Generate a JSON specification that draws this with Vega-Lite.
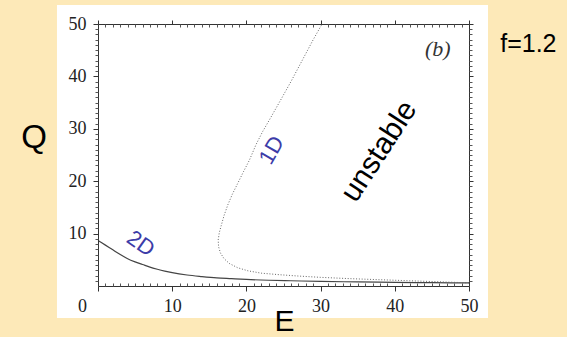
{
  "$schema": "https://vega.github.io/schema/vega-lite/v6.json",
  "width": 371,
  "height": 262,
  "autosize": "none",
  "padding": {"left": 98, "top": 24, "right": 98, "bottom": 51},
  "background": "#fde9b8",
  "config": {"view": {"stroke": null}, "axis": {"grid": false}},
  "datasets": {
    "curve2D": [
      {"E": 0, "Q": 8.7}, {"E": 1, "Q": 7.8}, {"E": 2, "Q": 6.9}, {"E": 3, "Q": 6.0},
      {"E": 4, "Q": 5.2}, {"E": 5, "Q": 4.6}, {"E": 6, "Q": 4.1}, {"E": 7, "Q": 3.6},
      {"E": 8, "Q": 3.2}, {"E": 9, "Q": 2.85}, {"E": 10, "Q": 2.55}, {"E": 12, "Q": 2.1},
      {"E": 14, "Q": 1.8}, {"E": 16, "Q": 1.55}, {"E": 18, "Q": 1.4}, {"E": 20, "Q": 1.25},
      {"E": 23, "Q": 1.1}, {"E": 26, "Q": 1.0}, {"E": 30, "Q": 0.88}, {"E": 35, "Q": 0.78},
      {"E": 40, "Q": 0.7}, {"E": 45, "Q": 0.63}, {"E": 50, "Q": 0.58}
    ],
    "curve1D": [
      {"E": 50, "Q": 0.6}, {"E": 46, "Q": 0.8}, {"E": 42, "Q": 1.0}, {"E": 38, "Q": 1.2},
      {"E": 34, "Q": 1.4}, {"E": 30, "Q": 1.65}, {"E": 27, "Q": 1.9}, {"E": 24.5, "Q": 2.15},
      {"E": 22, "Q": 2.45}, {"E": 20.2, "Q": 2.9}, {"E": 18.8, "Q": 3.5}, {"E": 17.7, "Q": 4.3},
      {"E": 17.0, "Q": 5.2}, {"E": 16.5, "Q": 6.3}, {"E": 16.25, "Q": 7.5}, {"E": 16.2, "Q": 8.8},
      {"E": 16.35, "Q": 10.2}, {"E": 16.6, "Q": 11.5}, {"E": 17.0, "Q": 13.5}, {"E": 17.5, "Q": 15.5},
      {"E": 18.1, "Q": 17.5}, {"E": 18.8, "Q": 19.5}, {"E": 19.6, "Q": 21.8}, {"E": 20.4, "Q": 24},
      {"E": 21.3, "Q": 27}, {"E": 22.2, "Q": 29.5}, {"E": 23.1, "Q": 31.7}, {"E": 24.5, "Q": 35.2},
      {"E": 26.0, "Q": 39}, {"E": 27.5, "Q": 43}, {"E": 29.0, "Q": 47}, {"E": 30.2, "Q": 50}
    ],
    "labels": [
      {"label": "unstable", "E": 37.9, "Q": 25.7},
      {"label": "1D", "E": 23.4, "Q": 25.9},
      {"label": "2D", "E": 5.75, "Q": 8.1},
      {"label": "(b)", "E": 45.8, "Q": 45.2},
      {"label": "f=1.2", "E": 58.0, "Q": 44.7}
    ]
  },
  "layer": [
    {
      "data": {"values": [{}]},
      "mark": {"type": "rect", "fill": "#ffffff", "clip": false},
      "encoding": {
        "x": {"datum": -5.53, "type": "quantitative", "scale": {"domain": [0, 50], "nice": false, "zero": false}, "axis": null},
        "x2": {"datum": 52.56},
        "y": {"datum": 53.63, "type": "quantitative", "scale": {"domain": [0, 50], "nice": false, "zero": false}, "axis": null},
        "y2": {"datum": -6.11}
      }
    },
    {
      "data": {"name": "curve2D"},
      "mark": {"type": "line", "color": "#444444", "strokeWidth": 1.2, "interpolate": "monotone"},
      "encoding": {
        "x": {"field": "E", "type": "quantitative", "scale": {"domain": [0, 50], "nice": false, "zero": false},
          "axis": {"orient": "bottom", "values": [0, 10, 20, 30, 40, 50], "tickSize": 5, "tickColor": "#333333", "domainColor": "#333333",
            "labelFont": "Liberation Serif", "labelFontSize": 18, "labelColor": "#222222", "labelPadding": 6,
            "labelOffset": {"condition": {"test": "datum.value === 0", "value": -16}, "value": 0},
            "labelFlush": false, "labelOverlap": false, "zindex": 1,
            "title": "E", "titleFont": "Liberation Sans", "titleFontSize": 30, "titleFontWeight": "normal", "titleColor": "#000000",
            "titleX": 186, "titleY": 44, "titleBaseline": "alphabetic", "titleAlign": "center", "titleAnchor": null}},
        "y": {"field": "Q", "type": "quantitative", "scale": {"domain": [0, 50], "nice": false, "zero": false},
          "axis": {"orient": "left", "values": [10, 20, 30, 40, 50], "tickSize": 5, "tickColor": "#333333", "domainColor": "#333333",
            "labelFont": "Liberation Serif", "labelFontSize": 18, "labelColor": "#222222", "labelPadding": 7,
            "labelFlush": false, "labelOverlap": false, "zindex": 1,
            "title": "Q", "titleFont": "Liberation Sans", "titleFontSize": 33, "titleFontWeight": "normal", "titleColor": "#000000",
            "titleAngle": 0, "titleX": -64.5, "titleY": 123, "titleBaseline": "alphabetic", "titleAlign": "center", "titleAnchor": null}}
      }
    },
    {
      "data": {"name": "curve1D"},
      "mark": {"type": "line", "color": "#666666", "strokeWidth": 1, "strokeDash": [1, 1.8], "interpolate": "linear"},
      "encoding": {
        "x": {"field": "E", "type": "quantitative", "scale": {"domain": [0, 50], "nice": false, "zero": false},
          "axis": {"orient": "top", "values": [0, 10, 20, 30, 40, 50], "tickSize": 4, "tickColor": "#333333", "domainColor": "#333333",
            "labels": false, "title": null, "zindex": 1}},
        "y": {"field": "Q", "type": "quantitative", "scale": {"domain": [0, 50], "nice": false, "zero": false},
          "axis": {"orient": "right", "values": [10, 20, 30, 40, 50], "tickSize": 4, "tickColor": "#333333", "domainColor": "#333333",
            "labels": false, "title": null, "zindex": 1}},
        "order": {"field": "Q", "type": "quantitative"}
      }
    },
    {
      "data": {"name": "labels"},
      "transform": [{"filter": "datum.label === 'unstable'"}],
      "mark": {"type": "text", "font": "Liberation Sans", "fontSize": 30, "angle": -57, "color": "#000000", "align": "center", "baseline": "middle"},
      "encoding": {
        "x": {"field": "E", "type": "quantitative", "scale": {"domain": [0, 50], "nice": false, "zero": false},
          "axis": {"orient": "bottom", "values": [1,2,3,4,5,6,7,8,9,11,12,13,14,15,16,17,18,19,21,22,23,24,25,26,27,28,29,31,32,33,34,35,36,37,38,39,41,42,43,44,45,46,47,48,49],
            "tickSize": -3, "tickColor": "#555555", "domain": false, "labels": false, "title": null, "zindex": 1}},
        "y": {"field": "Q", "type": "quantitative", "scale": {"domain": [0, 50], "nice": false, "zero": false},
          "axis": {"orient": "left", "values": [1,2,3,4,5,6,7,8,9,11,12,13,14,15,16,17,18,19,21,22,23,24,25,26,27,28,29,31,32,33,34,35,36,37,38,39,41,42,43,44,45,46,47,48,49],
            "tickSize": 3, "tickColor": "#555555", "domain": false, "labels": false, "title": null, "zindex": 1}},
        "text": {"field": "label"}
      }
    },
    {
      "data": {"name": "labels"},
      "transform": [{"filter": "datum.label === '1D'"}],
      "mark": {"type": "text", "font": "Liberation Sans", "fontSize": 22, "angle": -60, "color": "#3c3ca8", "align": "center", "baseline": "middle"},
      "encoding": {
        "x": {"field": "E", "type": "quantitative", "scale": {"domain": [0, 50], "nice": false, "zero": false},
          "axis": {"orient": "top", "values": [1,2,3,4,5,6,7,8,9,11,12,13,14,15,16,17,18,19,21,22,23,24,25,26,27,28,29,31,32,33,34,35,36,37,38,39,41,42,43,44,45,46,47,48,49],
            "tickSize": -3, "tickColor": "#555555", "domain": false, "labels": false, "title": null, "zindex": 1}},
        "y": {"field": "Q", "type": "quantitative", "scale": {"domain": [0, 50], "nice": false, "zero": false},
          "axis": {"orient": "right", "values": [1,2,3,4,5,6,7,8,9,11,12,13,14,15,16,17,18,19,21,22,23,24,25,26,27,28,29,31,32,33,34,35,36,37,38,39,41,42,43,44,45,46,47,48,49],
            "tickSize": 3, "tickColor": "#555555", "domain": false, "labels": false, "title": null, "zindex": 1}},
        "text": {"field": "label"}
      }
    },
    {
      "data": {"name": "labels"},
      "transform": [{"filter": "datum.label === '2D'"}],
      "mark": {"type": "text", "font": "Liberation Sans", "fontSize": 22, "angle": 35, "color": "#3c3ca8", "align": "center", "baseline": "middle"},
      "encoding": {
        "x": {"field": "E", "type": "quantitative", "scale": {"domain": [0, 50], "nice": false, "zero": false}, "axis": null},
        "y": {"field": "Q", "type": "quantitative", "scale": {"domain": [0, 50], "nice": false, "zero": false}, "axis": null},
        "text": {"field": "label"}
      }
    },
    {
      "data": {"name": "labels"},
      "transform": [{"filter": "datum.label === '(b)'"}],
      "mark": {"type": "text", "font": "Liberation Serif", "fontSize": 22, "fontStyle": "italic", "color": "#333333", "align": "center", "baseline": "middle"},
      "encoding": {
        "x": {"field": "E", "type": "quantitative", "scale": {"domain": [0, 50], "nice": false, "zero": false}, "axis": null},
        "y": {"field": "Q", "type": "quantitative", "scale": {"domain": [0, 50], "nice": false, "zero": false}, "axis": null},
        "text": {"field": "label"}
      }
    },
    {
      "data": {"name": "labels"},
      "transform": [{"filter": "datum.label === 'f=1.2'"}],
      "mark": {"type": "text", "font": "Liberation Sans", "fontSize": 25, "color": "#000000", "align": "center", "baseline": "alphabetic", "clip": false},
      "encoding": {
        "x": {"field": "E", "type": "quantitative", "scale": {"domain": [0, 50], "nice": false, "zero": false}, "axis": null},
        "y": {"field": "Q", "type": "quantitative", "scale": {"domain": [0, 50], "nice": false, "zero": false}, "axis": null},
        "text": {"field": "label"}
      }
    }
  ],
  "resolve": {"axis": {"x": "independent", "y": "independent"}}
}
